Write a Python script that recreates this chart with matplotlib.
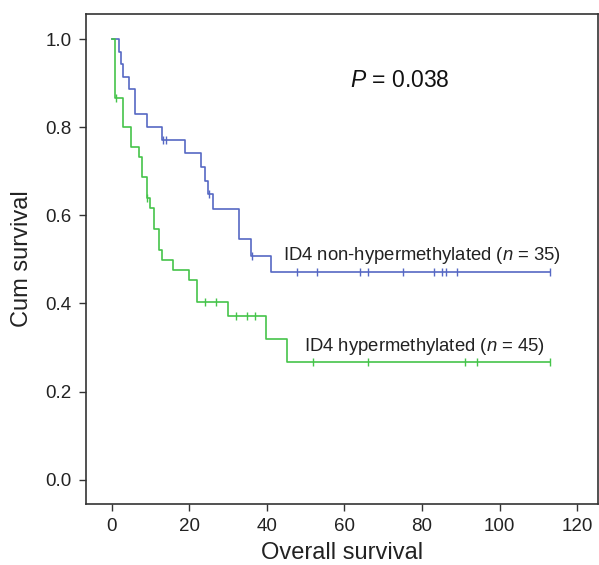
import numpy as np
import matplotlib.pyplot as plt

plt.rcParams["font.family"] = ["Liberation Sans", "DejaVu Sans"]
plt.rcParams["mathtext.fontset"] = "custom"
plt.rcParams["mathtext.rm"] = "Liberation Sans"
plt.rcParams["mathtext.it"] = "Liberation Sans:italic"

# Kaplan-Meier steps
blue_times = [0, 1.9, 2.3, 2.9, 4.5, 5.9, 9.0, 13.0, 19.0, 22.9, 24.0, 24.9, 26.0, 32.9, 36.0, 41.0]
blue_surv = [1.0, 0.971, 0.943, 0.914, 0.886, 0.829, 0.800, 0.771, 0.741, 0.710, 0.679, 0.648,
             0.615, 0.546, 0.508, 0.471]
blue_censor = [13.3, 14.1, 25.1, 36.2, 47.9, 53.0, 64.0, 66.0, 75.0, 83.1, 85.1, 86.1, 88.9, 113.0]

green_times = [0, 0.9, 2.9, 5.0, 7.0, 7.9, 9.0, 10.0, 11.0, 12.1, 13.0, 15.9, 19.9, 22.1, 30.0,
               39.9, 45.1]
green_surv = [1.0, 0.867, 0.800, 0.755, 0.733, 0.686, 0.639, 0.617, 0.569, 0.521, 0.499, 0.475,
              0.453, 0.404, 0.372, 0.320, 0.267]
green_censor = [1.0, 9.1, 24.0, 27.0, 32.0, 35.0, 36.9, 52.0, 66.0, 91.1, 94.1, 113.0]

end_time = 113.0
x_ticks = [0, 20, 40, 60, 80, 100, 120]
y_ticks = [0.0, 0.2, 0.4, 0.6, 0.8, 1.0]

BLUE = "#5668c4"
GREEN = "#45c44a"


def surv_at(times, surv, t):
    idx = np.searchsorted(times, t, side="right") - 1
    return np.asarray(surv)[idx]


fig = plt.figure(figsize=(5.99, 5.65), dpi=100)
ax = fig.add_axes([0.143, 0.108, 0.855, 0.868])

for times, surv, cens, color in [
    (blue_times, blue_surv, blue_censor, BLUE),
    (green_times, green_surv, green_censor, GREEN),
]:
    t = list(times) + [end_time]
    s = list(surv) + [surv[-1]]
    ax.step(t, s, where="post", color=color, lw=1.2)
    ax.plot(cens, surv_at(times, surv, cens), ls="none", marker="|",
            ms=6, mew=1.0, color=color)

ax.text(61.4, 0.905, r"$\it{P}$ = 0.038", fontsize=16.5, va="center", ha="left", color="#111")
ax.text(44.1, 0.498, r"ID4 non-hypermethylated ($\it{n}$ = 35)", fontsize=13.3,
        va="baseline", ha="left", color="#222")
ax.text(49.6, 0.293, r"ID4 hypermethylated ($\it{n}$ = 45)", fontsize=13.3,
        va="baseline", ha="left", color="#222")

ax.set_xlim(-6.7, 125.3)
ax.set_ylim(-0.055, 1.058)
ax.set_xticks(x_ticks)
ax.set_yticks(y_ticks)
ax.set_yticklabels([f"{v:.1f}" for v in y_ticks])
ax.tick_params(direction="out", length=5, width=1, labelsize=13.5, colors="#333",
               labelcolor="#222", pad=5)
for sp in ax.spines.values():
    sp.set_color("#333")
    sp.set_linewidth(1.2)

ax.set_xlabel("Overall survival", fontsize=17, color="#222", labelpad=5)
ax.set_ylabel("Cum survival", fontsize=17, color="#222", labelpad=9)

fig.savefig("out.png", dpi=100)
